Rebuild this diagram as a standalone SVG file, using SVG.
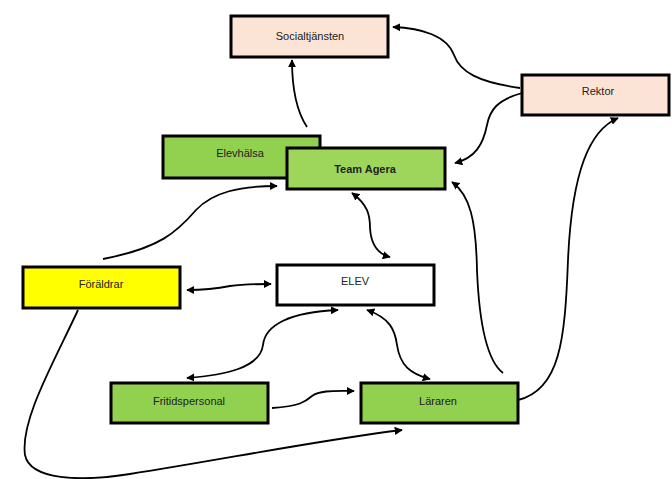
<svg xmlns="http://www.w3.org/2000/svg" width="672" height="479" viewBox="0 0 672 479">
<style>
.box{stroke:#000;stroke-width:3}
.peach{fill:#FBE4D5}
.green{fill:#92D050}
.lgreen{fill:#9ED65C}
.yellow{fill:#FFFF00}
.white{fill:#FFFFFF}
text{font-family:"Liberation Sans",Arial,sans-serif;font-size:11px;fill:#222;text-anchor:middle}
.b{font-weight:bold}
.c{fill:none;stroke:#000;stroke-width:1.8}
</style>
<defs>
<marker id="ah" viewBox="0 0 10 10" refX="9" refY="5" markerWidth="4.5" markerHeight="4.5" orient="auto-start-reverse">
<path d="M0,0 L10,5 L0,10 Z" fill="#000"/>
</marker>
</defs>
<rect width="672" height="479" fill="#fff"/>
<g id="socialtjansten"><rect class="box peach" x="231" y="16" width="157" height="41"/><text x="310" y="40">Socialtjänsten</text></g>
<g id="rektor"><rect class="box peach" x="522" y="75" width="147" height="40"/><text x="598" y="95">Rektor</text></g>
<g id="elevhalsa"><rect class="box green" x="163" y="136" width="157" height="42"/><text x="240" y="157">Elevhälsa</text></g>
<g id="team-agera"><rect class="box lgreen" x="287" y="148" width="158" height="41"/><text class="b" x="365" y="173">Team Agera</text></g>
<g id="foraldrar"><rect class="box yellow" x="23" y="267" width="157" height="41"/><text x="101" y="288">Föräldrar</text></g>
<g id="elev"><rect class="box white" x="277" y="265" width="157" height="40"/><text x="355" y="285">ELEV</text></g>
<g id="fritidspersonal"><rect class="box green" x="111" y="383" width="157" height="40"/><text x="189" y="405">Fritidspersonal</text></g>
<g id="lararen"><rect class="box green" x="361" y="383" width="157" height="40"/><text x="438" y="405">Läraren</text></g>
<g id="connectors">
<path class="c" marker-end="url(#ah)" d="M307,127 C297,112 292,88 292,60"/>
<path class="c" marker-end="url(#ah)" d="M520,88 C478,82 460,72 454,55 C447,36 422,28 393,27"/>
<path class="c" marker-end="url(#ah)" d="M522,93 C497,100 490,110 487,125 C483,145 475,158 455,163"/>
<path class="c" marker-end="url(#ah)" d="M103,259 C160,248 177,232 196,210 C213,192 240,186 277,186"/>
<path class="c" marker-start="url(#ah)" marker-end="url(#ah)" d="M352,193 C368,205 370,215 370,228 C371,245 378,254 390,257"/>
<path class="c" marker-end="url(#ah)" d="M503,373 C486,360 479,320 477,270 C476,220 470,195 452,182"/>
<path class="c" marker-start="url(#ah)" marker-end="url(#ah)" d="M367,310 C390,318 395,330 397,345 C400,365 410,374 430,379"/>
<path class="c" marker-start="url(#ah)" marker-end="url(#ah)" d="M187,290 C210,290 220,288 230,286 C245,284 255,284 271,284"/>
<path class="c" marker-start="url(#ah)" marker-end="url(#ah)" d="M338,310 C290,312 265,325 263,345 C260,368 225,375 187,378"/>
<path class="c" marker-end="url(#ah)" d="M272,408 C300,406 305,402 312,396 C320,390 335,391 354,391"/>
<path class="c" marker-end="url(#ah)" d="M78,310 C55,360 20,420 25,455 C30,480 80,482 130,474 C220,460 320,440 402,430"/>
<path class="c" marker-end="url(#ah)" d="M518,400 C560,390 565,340 568,260 C572,170 590,130 618,118"/>
</g>
</svg>
